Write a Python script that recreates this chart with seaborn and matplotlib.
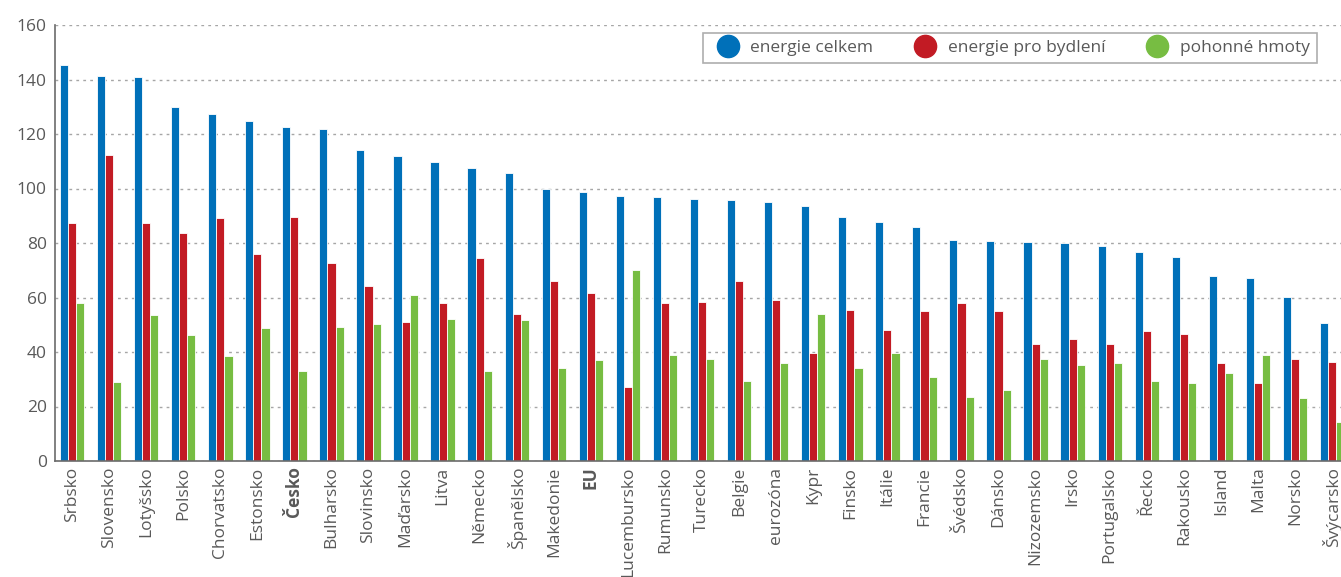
"""
Ceny energií v evropských zemích – energie celkem, bydlení, pohonné hmoty.
"""

import matplotlib
matplotlib.use("Agg")
import matplotlib.pyplot as plt
from matplotlib.lines import Line2D
import seaborn as sns
import pandas as pd

# Data
zeme = ["Srbsko", "Slovensko", "Lotyšsko", "Polsko", "Chorvatsko", "Estonsko",
        "Česko", "Bulharsko", "Slovinsko", "Maďarsko", "Litva", "Německo",
        "Španělsko", "Makedonie", "EU", "Lucembursko", "Rumunsko", "Turecko",
        "Belgie", "eurozóna", "Kypr", "Finsko", "Itálie", "Francie", "Švédsko",
        "Dánsko", "Nizozemsko", "Irsko", "Portugalsko", "Řecko", "Rakousko",
        "Island", "Malta", "Norsko", "Švýcarsko"]
energie_celkem = [145.2, 141.3, 140.8, 129.8, 127.5, 124.8, 122.5, 122.0, 114.2,
                  111.9, 109.9, 107.5, 105.6, 100.0, 98.7, 97.3, 96.7, 96.1, 95.6,
                  95.0, 93.4, 89.6, 87.8, 85.9, 81.2, 80.8, 80.4, 79.9, 79.0,
                  76.8, 75.0, 68.0, 67.2, 60.3, 50.8]
energie_bydleni = [87.4, 112.3, 87.4, 83.5, 89.2, 76.0, 89.5, 72.8, 64.2, 51.1,
                   57.8, 74.5, 54.1, 66.1, 61.7, 27.3, 57.8, 58.5, 66.2, 58.9,
                   39.7, 55.3, 48.2, 55.1, 57.8, 55.1, 43.1, 44.6, 43.1, 47.8,
                   46.5, 35.8, 28.5, 37.5, 36.5]
pohonne_hmoty = [57.9, 29.1, 53.4, 46.3, 38.4, 48.9, 33.1, 49.1, 50.1, 60.8,
                 52.2, 33.2, 51.7, 34.0, 37.0, 70.1, 39.0, 37.5, 29.4, 36.0,
                 53.8, 34.3, 39.6, 30.9, 23.6, 25.9, 37.3, 35.3, 36.0, 29.2,
                 28.6, 32.4, 38.8, 23.1, 14.4]
serie = ["energie celkem", "energie pro bydlení", "pohonné hmoty"]
barvy = ["#0070b9", "#c21b24", "#77bd42"]
tucne = ["Česko", "EU"]

df = pd.DataFrame({"zeme": zeme,
                   serie[0]: energie_celkem,
                   serie[1]: energie_bydleni,
                   serie[2]: pohonne_hmoty})
df = df.melt(id_vars="zeme", var_name="ukazatel", value_name="hodnota")

sns.set_theme(style="white")
plt.rcParams['font.family'] = ["Open Sans", "DejaVu Sans"]
seda = "#595959"

fig = plt.figure(figsize=(13.41, 5.77), dpi=100)
ax = fig.add_axes([55 / 1341, 1 - 461 / 577, 1 - 55 / 1341, (461 - 25) / 577])

sns.barplot(data=df, x="zeme", y="hodnota", hue="ukazatel", hue_order=serie,
            palette=barvy, width=0.66, edgecolor="white", linewidth=0.6,
            saturation=1, legend=False, ax=ax)

ax.set_ylim(0, 160)
ax.set_yticks(range(0, 161, 20))
ax.set_xlim(-0.46, 34.24)
ax.set_xlabel("")
ax.set_ylabel("")
ax.grid(axis="y", linestyle=(0, (2, 3)), color="#a6a6a6", linewidth=1)
ax.set_axisbelow(True)

for s in ["top", "right"]:
    ax.spines[s].set_visible(False)
for s in ["left", "bottom"]:
    ax.spines[s].set_color("#6b6b6b")
    ax.spines[s].set_linewidth(1.2)

ax.tick_params(axis="y", labelsize=12.5, colors=seda, length=0, pad=6)
ax.tick_params(axis="x", labelsize=12.5, colors=seda, length=0, pad=4,
               labelrotation=90)
for lab in ax.get_xticklabels():
    if lab.get_text() in tucne:
        lab.set_fontweight("bold")

handles = [Line2D([], [], marker="o", linestyle="", markersize=16,
                  markerfacecolor=c, markeredgecolor=c) for c in barvy]
leg = fig.legend(handles, serie, loc="upper right", ncol=3,
                 bbox_to_anchor=(1317 / 1341, 1 - 33 / 577),
                 bbox_transform=fig.transFigure, frameon=True, fancybox=False,
                 fontsize=12.5, columnspacing=2.0, handletextpad=0.3,
                 borderpad=0.4, labelcolor=seda, borderaxespad=0)
leg.get_frame().set_edgecolor("#9a9a9a")
leg.get_frame().set_linewidth(1.2)

fig.savefig("out.png", dpi=100)
